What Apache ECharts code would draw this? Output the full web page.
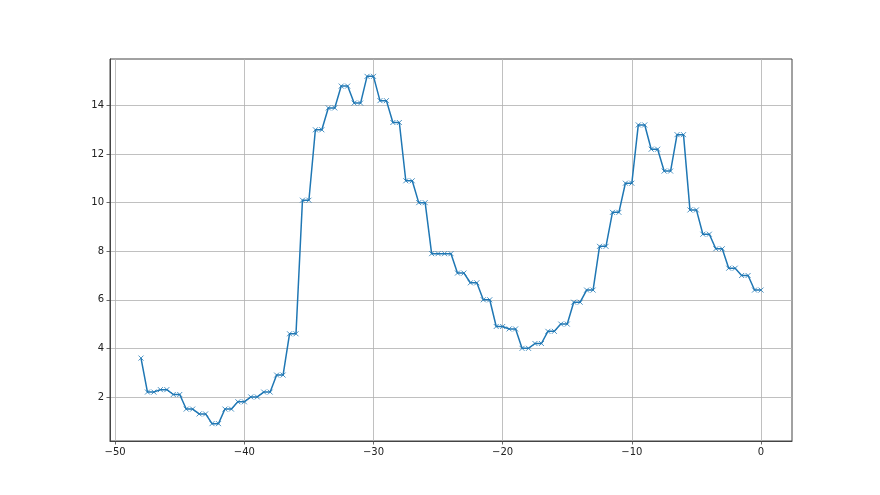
<!DOCTYPE html>
<html>
<head>
<meta charset="utf-8">
<script src="https://cdn.jsdelivr.net/npm/echarts@6/dist/echarts.min.js"></script>
<style>
html,body{margin:0;padding:0;background:#fff;}
#chart{width:880px;height:495px;}
</style>
</head>
<body>
<div id="chart"></div>
<script>
var xValues = [-48,
  -47.5,-47,-46.5,-46,-45.5,-45,-44.5,-44,-43.5,-43,-42.5,-42,-41.5,-41,-40.5,-40,
  -39.5,-39,-38.5,-38,-37.5,-37,-36.5,-36,-35.5,-35,-34.5,-34,-33.5,-33,-32.5,-32,
  -31.5,-31,-30.5,-30,-29.5,-29,-28.5,-28,-27.5,-27,-26.5,-26,-25.5,-25,-24.5,-24,
  -23.5,-23,-22.5,-22,-21.5,-21,-20.5,-20,-19.5,-19,-18.5,-18,-17.5,-17,-16.5,-16,
  -15.5,-15,-14.5,-14,-13.5,-13,-12.5,-12,-11.5,-11,-10.5,-10,-9.5,-9,-8.5,-8,
  -7.5,-7,-6.5,-6,-5.5,-5,-4.5,-4,-3.5,-3,-2.5,-2,-1.5,-1,-0.5,0];
var yValues = [3.6,
  2.2,2.2, 2.3,2.3, 2.1,2.1, 1.5,1.5, 1.3,1.3, 0.9,0.9, 1.5,1.5, 1.8,1.8, 2.0,2.0, 2.2,2.2,
  2.9,2.9, 4.6,4.6, 10.1,10.1, 13.0,13.0, 13.9,13.9, 14.8,14.8, 14.1,14.1, 15.2,15.2, 14.2,14.2, 13.3,13.3,
  10.9,10.9, 10.0,10.0, 7.9,7.9, 7.9,7.9, 7.1,7.1, 6.7,6.7, 6.0,6.0, 4.9,4.9, 4.8,4.8, 4.0,4.0,
  4.2,4.2, 4.7,4.7, 5.0,5.0, 5.9,5.9, 6.4,6.4, 8.2,8.2, 9.6,9.6, 10.8,10.8, 13.2,13.2, 12.2,12.2,
  11.3,11.3, 12.8,12.8, 9.7,9.7, 8.7,8.7, 8.1,8.1, 7.3,7.3, 7.0,7.0, 6.4,6.4];
var xTicks = [-50,-40,-30,-20,-10,0];
var yTicks = [2,4,6,8,10,12,14];

var data = xValues.map(function(x,i){return [x, yValues[i]];});
var fmt = function(v){ return String(v).replace('-', '\u2212'); };
var chart = echarts.init(document.getElementById('chart'), null, {renderer:'canvas'});
chart.setOption({
  animation:false,
  backgroundColor:'#fff',
  grid:{left:110, right:88, top:59, bottom:54, show:true, borderColor:'#444', borderWidth:1, backgroundColor:'transparent'},
  xAxis:{
    type:'value', min:-50.4, max:2.4,
    axisLine:{show:true, onZero:false, lineStyle:{color:'#444', width:1}},
    axisTick:{show:true, inside:false, length:3.5, lineStyle:{color:'#444', width:0.8}, customValues:xTicks},
    axisLabel:{show:true, margin:6, color:'#222', fontFamily:'DejaVu Sans', fontSize:10, customValues:xTicks, formatter:fmt},
    splitLine:{show:true, lineStyle:{color:'#b0b0b0', width:0.8}}
  },
  yAxis:{
    type:'value', min:0.185, max:15.915,
    axisLine:{show:true, onZero:false, lineStyle:{color:'#444', width:1}},
    axisTick:{show:true, inside:false, length:3.5, lineStyle:{color:'#444', width:0.8}, customValues:yTicks},
    axisLabel:{show:true, margin:6, color:'#222', fontFamily:'DejaVu Sans', fontSize:10, customValues:yTicks, formatter:fmt},
    splitLine:{show:true, lineStyle:{color:'#b0b0b0', width:0.8}}
  },
  series:[{
    type:'line',
    data:data,
    showAllSymbol:true,
    symbol:'path://M0,0L10,10M10,0L0,10',
    symbolSize:5,
    itemStyle:{color:'#1f77b4', borderColor:'#1f77b4', borderWidth:0.8},
    lineStyle:{color:'#1f77b4', width:1.5},
    emphasis:{disabled:true}
  }]
});
</script>
</body>
</html>
